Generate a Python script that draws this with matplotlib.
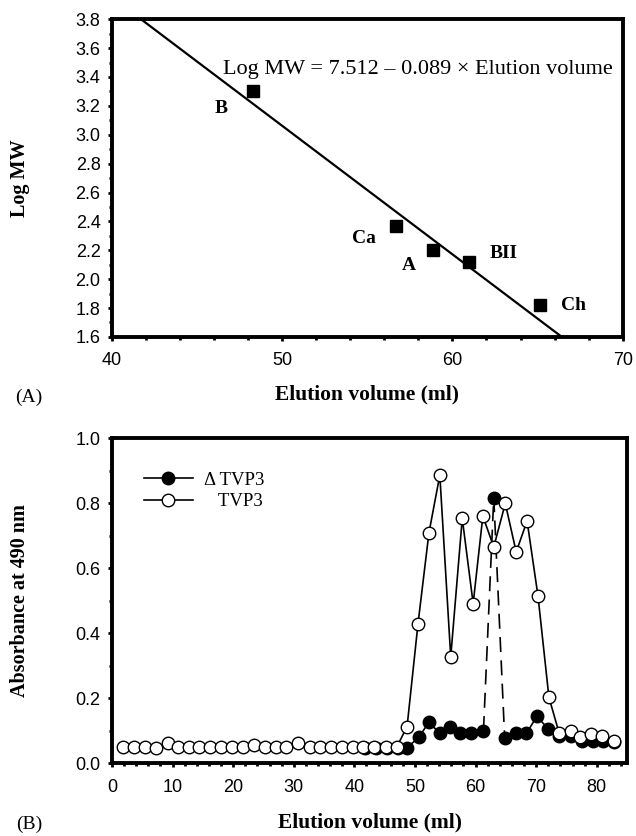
import matplotlib
matplotlib.use("Agg")
import matplotlib.pyplot as plt
from matplotlib.lines import Line2D
from matplotlib.ticker import MultipleLocator, FormatStrFormatter

# (A) calibration standards
std_names = ["B", "Ca", "A", "BII", "Ch"]
std_volume = [48.3, 56.7, 58.85, 60.95, 65.15]
std_logmw = [3.30, 2.37, 2.20, 2.12, 1.82]
fit_intercept = 7.512
fit_slope = -0.089
fit_volume = [41.7, 66.4]

# (B) elution profiles
tvp3_volume = [1.8, 3.7, 5.5, 7.3, 9.2, 10.9, 12.7, 14.4, 16.1, 18.0, 19.8, 21.6,
               23.5, 25.2, 27.0, 28.8, 30.7, 32.6, 34.4, 36.2, 38.0, 39.8, 41.5,
               43.3, 45.2, 47.0, 48.7, 50.5, 52.3, 54.1, 55.9, 57.8, 59.6, 61.2,
               63.0, 64.9, 66.7, 68.5, 70.3, 72.1, 73.8, 75.7, 77.3, 79.1, 80.9, 82.8]
tvp3_abs = [0.05, 0.05, 0.05, 0.048, 0.062, 0.05, 0.05, 0.05, 0.05, 0.05, 0.05, 0.05,
            0.055, 0.05, 0.05, 0.05, 0.062, 0.05, 0.05, 0.05, 0.05, 0.05, 0.05,
            0.05, 0.05, 0.05, 0.113, 0.429, 0.708, 0.886, 0.327, 0.753, 0.491, 0.760,
            0.665, 0.799, 0.650, 0.745, 0.514, 0.203, 0.092, 0.099, 0.080, 0.090, 0.085, 0.068]
dtvp3_volume = [41.8, 43.6, 45.4, 47.2, 48.7, 50.7, 52.3, 54.1, 55.8, 57.5, 59.3, 61.3,
                63.0, 64.8, 66.6, 68.4, 70.1, 72.0, 73.8, 75.7, 77.6, 79.3, 81.0, 82.8]
dtvp3_abs = [0.047, 0.047, 0.047, 0.047, 0.047, 0.082, 0.126, 0.092, 0.113, 0.092, 0.092, 0.099,
             0.817, 0.078, 0.092, 0.092, 0.144, 0.106, 0.085, 0.085, 0.068, 0.068, 0.07, 0.065]
dash_from, dash_to = 11, 13  # peak fraction joined by dashes

serif = "Liberation Serif"
sans = "Liberation Sans"

fig = plt.figure(figsize=(6.36, 8.36), dpi=100)
ax1 = fig.add_axes([0.176, 0.597, 0.803, 0.380])
ax2 = fig.add_axes([0.176, 0.087, 0.810, 0.389])


def style_axes(ax):
    for s in ax.spines.values():
        s.set_linewidth(2.8)
    ax.tick_params(which="both", direction="out", width=2.0, labelsize=13)
    ax.tick_params(which="major", length=3.2)
    ax.tick_params(which="minor", length=2.0)
    ax.tick_params(axis="x", pad=8)
    ax.tick_params(axis="y", pad=5)
    for lab in ax.get_xticklabels() + ax.get_yticklabels():
        lab.set_fontfamily(sans)


# ---- panel A
line_y = [fit_intercept + fit_slope * v for v in fit_volume]
ax1.plot(fit_volume, line_y, color="black", lw=1.6)
ax1.plot(std_volume, std_logmw, "s", color="black", ms=8.5, ls="none")
offsets = {"B": (-23, -12), "Ca": (-23, -9), "A": (-17, -11), "BII": (25, 6), "Ch": (24, 0)}
for name, v, m in zip(std_names, std_volume, std_logmw):
    ax1.annotate(name, (v, m), xytext=offsets[name], textcoords="offset points",
                 ha="center", va="center", fontsize=14, fontweight="bold", family=serif)
ax1.text(58.0, 3.45, "Log MW = 7.512 \u2013 0.089 \u00d7 Elution volume",
         ha="center", va="center", fontsize=16, family=serif)
ax1.set_xlim(40, 70)
ax1.set_ylim(1.6, 3.8)
ax1.xaxis.set_major_locator(MultipleLocator(10))
ax1.xaxis.set_minor_locator(MultipleLocator(2))
ax1.yaxis.set_major_locator(MultipleLocator(0.2))
ax1.yaxis.set_minor_locator(MultipleLocator(0.1))
ax1.yaxis.set_major_formatter(FormatStrFormatter("%.1f"))
style_axes(ax1)
ax1.set_xlabel("Elution volume (ml)", fontsize=15.5, fontweight="bold", family=serif)
ax1.set_ylabel("Log MW", fontsize=14.5, fontweight="bold", family=serif)
ax1.xaxis.set_label_coords(0.5, -0.150)
ax1.yaxis.set_label_coords(-0.160, 0.5)

# ---- panel B
ax2.plot(dtvp3_volume[:dash_from + 1], dtvp3_abs[:dash_from + 1], color="black", lw=1.2)
ax2.plot(dtvp3_volume[dash_to:], dtvp3_abs[dash_to:], color="black", lw=1.2)
ax2.plot(dtvp3_volume[dash_from:dash_to + 1], dtvp3_abs[dash_from:dash_to + 1],
         color="black", lw=1.2, dashes=(9, 5))
ax2.plot(dtvp3_volume, dtvp3_abs, "o", ls="none", color="black", ms=9, mec="black")
ax2.plot(tvp3_volume, tvp3_abs, "-o", color="black", lw=1.2, ms=9,
         mfc="white", mec="black", mew=1.0)
ax2.set_xlim(0, 85)
ax2.set_ylim(0, 1.0)
ax2.xaxis.set_major_locator(MultipleLocator(10))
ax2.xaxis.set_minor_locator(MultipleLocator(2))
ax2.yaxis.set_major_locator(MultipleLocator(0.2))
ax2.yaxis.set_minor_locator(MultipleLocator(0.1))
ax2.yaxis.set_major_formatter(FormatStrFormatter("%.1f"))
style_axes(ax2)
ax2.set_xlabel("Elution volume (ml)", fontsize=15.5, fontweight="bold", family=serif)
ax2.set_ylabel("Absorbance at 490 nm", fontsize=14.5, fontweight="bold", family=serif)
ax2.xaxis.set_label_coords(0.5, -0.150)
ax2.yaxis.set_label_coords(-0.160, 0.5)

handles = [Line2D([], [], color="black", lw=1.2, marker="o", ms=9, mfc="black"),
           Line2D([], [], color="black", lw=1.2, marker="o", ms=9, mfc="white", mec="black")]
ax2.legend(handles, ["\u0394 TVP3", "   TVP3"], loc="upper left",
           bbox_to_anchor=(0.062, 0.897), frameon=False, borderpad=0, borderaxespad=0,
           handlelength=2.6, handletextpad=0.6, labelspacing=0.25,
           prop={"family": serif, "size": 13.5})

fig.text(29 / 636, 1 - 397 / 836, "(A)", ha="center", va="center", fontsize=14, family=serif)
fig.text(29 / 636, 1 - 824 / 836, "(B)", ha="center", va="center", fontsize=14, family=serif)

fig.savefig("out.png", dpi=100)
